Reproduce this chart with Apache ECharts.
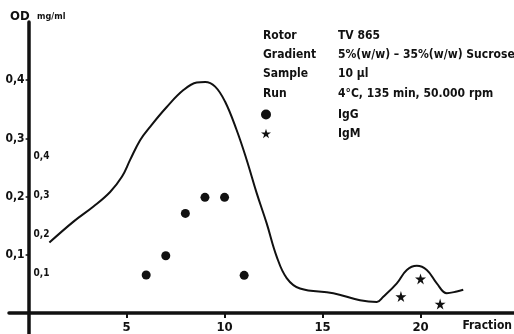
<!DOCTYPE html>
<html>
<head>
<meta charset="utf-8">
<script src="https://cdn.jsdelivr.net/npm/echarts@6/dist/echarts.min.js"></script>
<style>
  html, body { margin: 0; padding: 0; background: #fff; }
  #main { width: 514px; height: 334px; }
</style>
</head>
<body>
<div id="main"></div>
<script>
// absorbance profile (OD)
var curveFraction = [1.06, 2.29, 3.31, 4.16, 4.76, 5.18, 5.69, 6.2, 7.05, 7.9, 8.58, 9.01, 9.52, 10.03, 10.62, 11.13, 11.64, 12.15, 12.66, 13.17, 13.85, 15.55, 16.91, 17.77, 18.1, 18.79, 19.3, 19.81, 20.32, 20.83, 21.34, 21.85, 22.18];
var curveOD = [0.121, 0.157, 0.183, 0.208, 0.234, 0.263, 0.297, 0.32, 0.354, 0.383, 0.396, 0.397, 0.389, 0.363, 0.314, 0.263, 0.206, 0.154, 0.097, 0.06, 0.042, 0.034, 0.022, 0.019, 0.028, 0.051, 0.074, 0.081, 0.074, 0.051, 0.034, 0.037, 0.04];
// immunoglobulin concentrations (mg/ml)
var iggFraction = [6, 7, 8, 9, 10, 11];
var iggConc = [0.097, 0.146, 0.254, 0.295, 0.295, 0.096];
var igmFraction = [19, 20, 21];
var igmConc = [0.042, 0.087, 0.023];
// tick labels
var xTicks = [5, 10, 15, 20];
var odTicks = [0.1, 0.2, 0.3, 0.4];
var mgTicks = [0.1, 0.2, 0.3, 0.4];
// run conditions
var infoLabels = ['Rotor', 'Gradient', 'Sample', 'Run'];
var infoValues = ['TV 865', '5%(w/w) \u2013 35%(w/w) Sucrose', '10 \u00b5l', '4\u00b0C, 135 min, 50.000 rpm'];

var FONT = '"Liberation Sans Narrow", "DejaVu Sans Condensed", "Roboto", sans-serif';
var INK = '#111';
var STAR = 'path://M50,0 L61,35 L98,35 L68,57 L79,91 L50,70 L21,91 L32,57 L2,35 L39,35 Z';

function comma(v) { return String(v).replace('.', ','); }

var chart = echarts.init(document.getElementById('main'));

var graphics = [
  { type: 'text', x: 10, y: 17, style: { text: 'OD', fill: INK, font: 'bold 13px ' + FONT, verticalAlign: 'middle' } },
  { type: 'text', x: 37, y: 17, style: { text: 'mg/ml', fill: INK, font: 'bold 9px ' + FONT, verticalAlign: 'middle' } },
  { type: 'text', x: 512, y: 326, style: { text: 'Fraction', fill: INK, font: 'bold 12px ' + FONT, align: 'right', verticalAlign: 'middle' } }
];
var rowY = [36, 55, 74, 94];
infoLabels.forEach(function (lab, i) {
  graphics.push({ type: 'text', x: 263, y: rowY[i], style: { text: lab, fill: INK, font: 'bold 12px ' + FONT, verticalAlign: 'middle' } });
  graphics.push({ type: 'text', x: 338, y: rowY[i], style: { text: infoValues[i], fill: INK, font: 'bold 12px ' + FONT, verticalAlign: 'middle' } });
});

chart.setOption({
  backgroundColor: '#fff',
  animation: false,
  grid: { left: 9, right: 0, top: 22, bottom: 0, containLabel: false, outerBoundsMode: 'none' },
  legend: {
    data: ['IgG', 'IgM'],
    orient: 'vertical',
    left: 256,
    top: 103,
    itemWidth: 10,
    itemHeight: 10,
    itemGap: 6,
    selectedMode: false,
    textStyle: { color: INK, fontFamily: FONT, fontWeight: 'bold', fontSize: 12, lineHeight: 13, padding: [0, 0, 0, 62] }
  },
  graphic: graphics,
  xAxis: {
    type: 'value',
    position: 'bottom',
    offset: -21,
    min: -1,
    max: 24.77,
    axisLine: { onZero: false, lineStyle: { color: INK, width: 3.5 } },
    axisTick: { customValues: xTicks, length: 5, lineStyle: { color: INK, width: 2 } },
    axisLabel: { customValues: xTicks, color: INK, fontFamily: FONT, fontWeight: 'bold', fontSize: 13, margin: 8 },
    splitLine: { show: false }
  },
  yAxis: [
    {
      type: 'value',
      position: 'left',
      offset: -19.6,
      min: -0.0361,
      max: 0.5,
      axisLine: { show: true, onZero: false, lineStyle: { color: INK, width: 3.5 } },
      axisTick: { customValues: odTicks, length: 3, lineStyle: { color: INK, width: 1.5 } },
      axisLabel: { customValues: odTicks, formatter: comma, color: INK, fontFamily: FONT, fontWeight: 'bold', fontSize: 12, margin: 4 },
      splitLine: { show: false }
    },
    {
      type: 'value',
      position: 'left',
      offset: -19.6,
      min: -0.0536,
      max: 0.7423,
      axisLine: { show: false, onZero: false },
      axisTick: { show: false },
      axisLabel: { inside: true, customValues: mgTicks, formatter: comma, color: INK, fontFamily: FONT, fontWeight: 'bold', fontSize: 10, margin: 5 },
      splitLine: { show: false }
    }
  ],
  series: [
    {
      name: 'OD',
      type: 'line',
      yAxisIndex: 0,
      smooth: 0.4,
      symbol: 'none',
      lineStyle: { color: INK, width: 2 },
      data: curveFraction.map(function (f, i) { return [f, curveOD[i]]; })
    },
    {
      name: 'IgG',
      type: 'scatter',
      yAxisIndex: 1,
      symbol: 'circle',
      symbolSize: 9,
      itemStyle: { color: INK, opacity: 1 },
      data: iggFraction.map(function (f, i) { return [f, iggConc[i]]; })
    },
    {
      name: 'IgM',
      type: 'scatter',
      yAxisIndex: 1,
      symbol: STAR,
      symbolSize: 11,
      itemStyle: { color: INK, opacity: 1 },
      data: igmFraction.map(function (f, i) { return [f, igmConc[i]]; })
    }
  ]
});
</script>
</body>
</html>
